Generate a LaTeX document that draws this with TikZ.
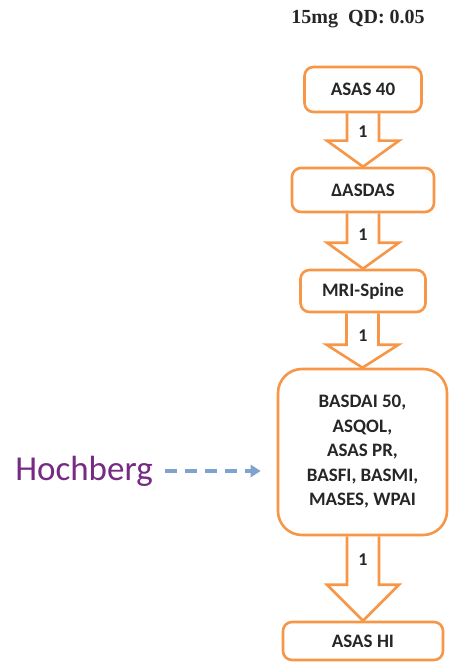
\documentclass[tikz,border=0pt]{standalone}
\usepackage{fontspec}
\setmainfont{Carlito}
\newfontfamily\timesbf{Liberation Serif}
\usetikzlibrary{calc,arrows.meta,backgrounds}
\definecolor{orng}{RGB}{247,150,70}
\definecolor{hpurple}{RGB}{118,42,132}
\definecolor{dblue}{RGB}{127,163,207}
\tikzset{
  box/.style={draw=orng, line width=2.6pt, fill=white, rounded corners=9pt, align=center,
     font=\fontsize{19}{24.5}\selectfont\bfseries, text=black!85, inner sep=0pt},
  barrow/.style={draw=orng, line width=2.6pt, fill=white, line join=miter},
  lbl/.style={font=\fontsize{18}{20}\selectfont\bfseries, text=black!85},
}
\newcommand{\blockarr}[3]{%
  \draw[barrow] let \p1=(#1.south), \p2=(#2.north) in
    (\x2-16pt,\y1) -- (\x2-16pt,\y2+#3) -- (\x2-36pt,\y2+#3) -- (\x2,\y2)
    -- (\x2+36pt,\y2+#3) -- (\x2+16pt,\y2+#3) -- (\x2+16pt,\y1);}
\begin{document}
\begin{tikzpicture}[x=1pt,y=-1pt]
\useasboundingbox (0,0) rectangle (448,668);
\node[box, minimum width=117pt, minimum height=45pt] (b1) at (363,89.5) {ASAS 40};
\node[box, minimum width=142pt, minimum height=44pt] (b2) at (363,190) {ΔASDAS};
\node[box, minimum width=125pt, minimum height=42pt] (b3) at (363,291) {MRI-Spine};
\node[box, minimum width=169pt, minimum height=166pt, rounded corners=24pt] (b4) at (362.5,452)
  {BASDAI 50,\\ASQOL,\\ASAS PR,\\BASFI, BASMI,\\MASES, WPAI};
\node[box, minimum width=160pt, minimum height=38pt] (b5) at (363,641) {ASAS HI};
\begin{scope}[on background layer]
\blockarr{b1}{b2}{26pt}
\blockarr{b2}{b3}{26pt}
\blockarr{b3}{b4}{23pt}
\blockarr{b4}{b5}{36pt}
\end{scope}
\node[lbl] (l1) at (363,132) {1};
\node[lbl] (l2) at (363,235) {1};
\node[lbl] (l3) at (363,336) {1};
\node[lbl] (l4) at (363,560) {1};
\node[font=\timesbf\fontsize{20}{22}\selectfont\bfseries, text=black!85] (t) at (358,19) {15mg\ \ QD: 0.05};
\node[font=\fontsize{35}{38}\selectfont, text=hpurple, inner sep=0pt] (h) at (84,471) {Hochberg};
\draw[dblue, line width=3.2pt, dash pattern=on 12pt off 8pt, -{Triangle[length=10pt,width=12pt]},
  shorten <=12pt, shorten >=16pt] (h.east) -- (h.east -| b4.west);
\end{tikzpicture}
\end{document}
